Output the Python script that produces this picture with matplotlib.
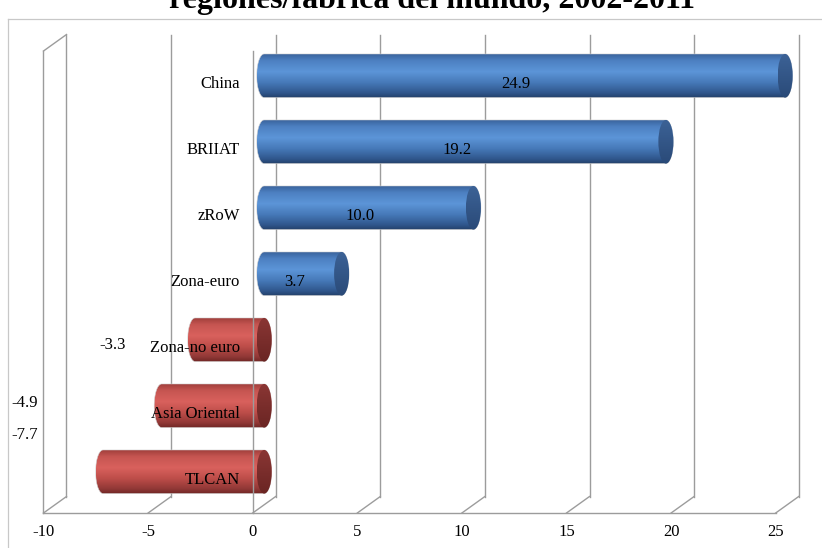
import numpy as np
import matplotlib
matplotlib.use('Agg')
import matplotlib.pyplot as plt
from matplotlib.colors import LinearSegmentedColormap
from matplotlib.patches import Ellipse, PathPatch
from matplotlib.path import Path

# Datos: variación por regiones (2002-2011)
regiones = ['China', 'BRIIAT', 'zRoW', 'Zona-euro',
            'Zona-no euro', 'Asia Oriental', 'TLCAN']
valores = [24.9, 19.2, 10.0, 3.7, -3.3, -4.9, -7.7]
ticks_x = [-10, -5, 0, 5, 10, 15, 20, 25]

titulo = 'regiones/fábrica del mundo, 2002-2011'

# Geometría del gráfico (píxeles de la figura)
W, H = 822, 548
PX_UNIDAD = 20.92      # píxeles por unidad del eje de valores
X0_PX = 252.7          # posición del 0 en el plano frontal
PISO_PX = 513          # piso frontal
PX_CAT = 66            # píxeles por categoría
DX = 23 / PX_UNIDAD    # profundidad en x
DY = 16.5 / PX_CAT     # profundidad en y
RX = 7.5 / PX_UNIDAD   # semieje de la tapa del cilindro
ALTO = 0.66            # grosor de la barra

GRIS = '#9c9c9c'
FS = 12
plt.rcParams['font.family'] = ['Liberation Serif', 'DejaVu Serif']

azul = LinearSegmentedColormap.from_list('azul', [
    (0.0, '#233f68'), (0.12, '#30578d'), (0.35, '#4679b8'),
    (0.6, '#5c95d8'), (0.85, '#4d80c2'), (1.0, '#3a649d')])
rojo = LinearSegmentedColormap.from_list('rojo', [
    (0.0, '#6e2624'), (0.12, '#913836'), (0.35, '#bd4d49'),
    (0.6, '#d9615d'), (0.85, '#c65551'), (1.0, '#a13f3c')])
tapa_azul = LinearSegmentedColormap.from_list('tapa_azul', ['#2a4a78', '#3c6296'])
tapa_roja = LinearSegmentedColormap.from_list('tapa_roja', ['#6a2523', '#8a3634'])


def relleno_gradiente(ax, cmap, patch, extent, z):
    grad = np.linspace(0, 1, 256).reshape(-1, 1)
    im = ax.imshow(grad, cmap=cmap, extent=extent, origin='lower',
                   aspect='auto', interpolation='bilinear', zorder=z)
    im.set_clip_path(patch)


def cilindro(ax, x_a, x_b, yc, cmap, cmap_tapa, z):
    """Cilindro horizontal entre x_a y x_b, con tapa visible a la derecha."""
    t1 = np.linspace(np.pi / 2, 3 * np.pi / 2, 60)
    t2 = np.linspace(3 * np.pi / 2, 5 * np.pi / 2, 60)
    h = ALTO / 2
    xs = np.concatenate([x_a + RX * np.cos(t1), x_b + RX * np.cos(t2)])
    ys = np.concatenate([yc + h * np.sin(t1), yc + h * np.sin(t2)])
    verts = np.column_stack([xs, ys])
    cuerpo = PathPatch(Path(np.vstack([verts, verts[:1]]), closed=True),
                       facecolor='none', edgecolor='#d0d0d0', lw=0.4,
                       zorder=z + 0.1, transform=ax.transData)
    ax.add_patch(cuerpo)
    relleno_gradiente(ax, cmap, cuerpo,
                      [x_a - RX, x_b + RX, yc - h, yc + h], z)
    tapa = Ellipse((x_b, yc), 2 * RX, ALTO, facecolor='none',
                   edgecolor='none', zorder=z + 0.2)
    ax.add_patch(tapa)
    relleno_gradiente(ax, cmap_tapa, tapa,
                      [x_b - RX, x_b + RX, yc - h, yc + h], z + 0.15)


fig = plt.figure(figsize=(W / 100, H / 100), dpi=100)
ax = fig.add_axes([0, 0, 1, 1])
ax.axis('off')
xlim = (-X0_PX / PX_UNIDAD, (W - X0_PX) / PX_UNIDAD)
ylim = ((PISO_PX - H) / PX_CAT, PISO_PX / PX_CAT)

n = len(regiones)
vmin, vmax = ticks_x[0], ticks_x[-1]

# Paredes y rejilla
for t in ticks_x:
    ax.plot([t, t + DX], [0, DY], color=GRIS, lw=1.0, zorder=1)
    ax.plot([t + DX, t + DX], [DY, n + DY], color=GRIS, lw=1.0, zorder=1)
ax.plot([vmin, vmax], [0, 0], color=GRIS, lw=1.0, zorder=1)
ax.plot([vmin, vmin], [0, n], color=GRIS, lw=1.0, zorder=1)
ax.plot([vmin, vmin + DX], [n, n + DY], color=GRIS, lw=1.0, zorder=1)

# Barras cilíndricas
for i, (reg, val) in enumerate(zip(regiones, valores)):
    fila = n - 1 - i
    yc = fila + 0.5 + DY / 2
    x_a, x_b = sorted([0, val])
    if val >= 0:
        cilindro(ax, x_a + DX / 2, x_b + DX / 2, yc, azul, tapa_azul, 3 + i)
    else:
        cilindro(ax, x_a + DX / 2, x_b + DX / 2, yc, rojo, tapa_roja, 3 + i)

# Eje de categorías en el plano frontal
ax.plot([0, 0], [0, n], color=GRIS, lw=1.0, zorder=20)

# Etiquetas de categoría y de datos
pos_neg = {'Zona-no euro': (-6.69, 2.545),
           'Asia Oriental': (-10.88, 1.667),
           'TLCAN': (-10.88, 1.18)}
for i, (reg, val) in enumerate(zip(regiones, valores)):
    fila = n - 1 - i
    ax.text(-0.62, fila + 0.5, reg, ha='right', va='center',
            fontsize=FS, zorder=30)
    if val >= 0:
        ax.text(val / 2 + 0.15, fila + 0.5, f'{val:.1f}', ha='center',
                va='center', fontsize=FS, zorder=30)
    else:
        px, py = pos_neg[reg]
        ax.text(px, py, f'{val:.1f}', ha='center', va='center',
                fontsize=FS, zorder=30)

for t in ticks_x:
    ax.text(t, -0.283, f'{t}', ha='center', va='center', fontsize=FS)

# Borde del área del gráfico
borde_x = -(X0_PX - 8) / PX_UNIDAD
borde_y = (PISO_PX - 19) / PX_CAT
ax.plot([borde_x, borde_x], [ylim[0], borde_y], color='#c8c8c8', lw=0.9)
ax.plot([borde_x, xlim[1]], [borde_y, borde_y], color='#c8c8c8', lw=0.9)

ax.set_xlim(*xlim)
ax.set_ylim(*ylim)

fig.text(432 / W, 1 - 8 / H, titulo, ha='center', va='baseline',
         fontsize=23, fontweight='bold')

fig.savefig('out.png', dpi=100)
